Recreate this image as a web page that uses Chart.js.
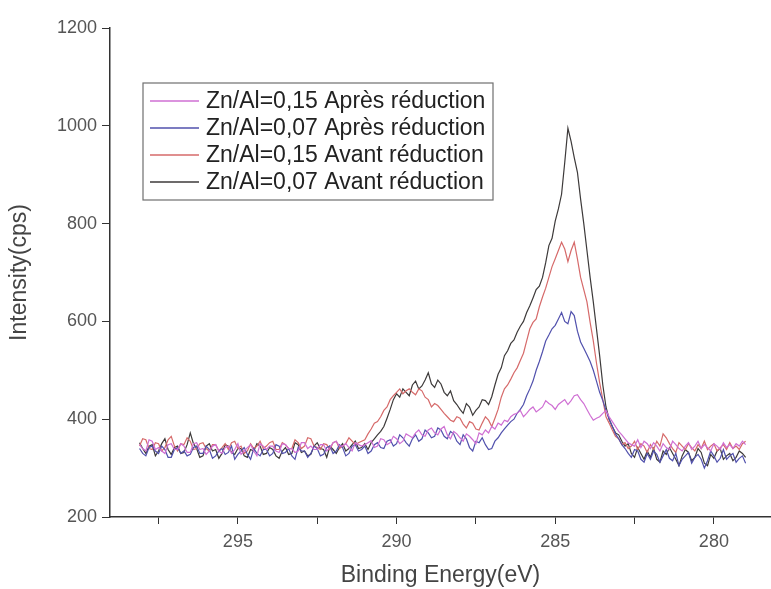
<!DOCTYPE html>
<html>
<head>
<meta charset="utf-8">
<script src="https://cdn.jsdelivr.net/npm/chart.js@4.4.1/dist/chart.umd.min.js"></script>
<style>
  html, body { margin: 0; padding: 0; background: #fff; }
  #wrap { width: 771px; height: 589px; }
</style>
</head>
<body>
<div id="wrap"><canvas id="chart" width="771" height="589"></canvas></div>
<script>
// XPS C1s spectra, energies from 298.1 eV down to 279.0 eV in 0.1 eV steps
var eStart = 298.1;
var eStep = 0.1;

var seriesLabels = [
  'Zn/Al=0,15 Après réduction',
  'Zn/Al=0,07 Après réduction',
  'Zn/Al=0,15 Avant réduction',
  'Zn/Al=0,07 Avant réduction'
];

// 298.1 .. 291.2 / 291.1 .. 282.1 / 282.0 .. 279.0
var apres015 = [
  348, 340, 335, 358, 355, 338, 342, 335, 330, 348,
  350, 338, 338, 350, 345, 332, 332, 350, 352, 338,
  340, 328, 335, 345, 348, 335, 330, 342, 345, 330,
  338, 350, 328, 335, 342, 348, 335, 325, 350, 345,
  338, 345, 345, 335, 332, 350, 348, 340, 340, 332,
  335, 352, 352, 340, 345, 338, 338, 348, 348, 335,
  342, 352, 355, 345, 345, 350, 342, 335, 352, 348,
  345, 348, 352, 356, 342, 345, 360, 358, 348, 352,
  365, 360, 350, 355, 370, 366, 362, 372, 378, 368,
  365, 378, 382, 372, 368, 380, 385, 368, 360, 375,
  370, 362, 355, 370, 365, 358, 350, 372, 368, 378,
  372, 385, 380, 392, 388, 398, 395, 405, 410, 412,
  418, 405, 412, 420, 425, 415, 420, 425, 438, 432,
  428, 420, 430, 435, 440, 430, 438, 448, 450, 440,
  432, 420, 408, 398, 402, 405, 412, 418, 405, 395,
  385, 375, 368, 360, 352, 348, 345, 358, 342, 355,
  350,
  340, 352, 345, 335, 350, 342, 338, 355, 348, 340,
  335, 345, 352, 338, 345, 355, 340, 348, 342, 335,
  350, 345, 338, 352, 342, 348, 340, 350, 345, 355, 348
];

var apres007 = [
  340, 330, 325, 342, 345, 335, 330, 345, 338, 322,
  322, 338, 342, 330, 335, 325, 328, 342, 345, 330,
  330, 345, 338, 320, 325, 335, 340, 328, 332, 345,
  318, 328, 335, 342, 328, 318, 340, 330, 325, 338,
  338, 325, 330, 348, 345, 330, 332, 340, 325, 318,
  342, 335, 335, 322, 330, 345, 340, 325, 328, 342,
  345, 330, 335, 348, 342, 325, 330, 345, 348, 335,
  338, 345, 330, 335, 348, 352, 342, 340, 355, 358,
  345, 350, 368, 362, 352, 345, 360, 368, 355, 360,
  378, 372, 362, 365, 382, 378, 365, 360, 375, 370,
  355, 348, 368, 360, 342, 335, 355, 352, 362, 348,
  338, 340, 355, 362, 372, 380, 388, 395, 400, 412,
  420, 430, 448, 462, 478, 500, 518, 538, 560, 572,
  585, 592, 605, 618, 600, 595, 620, 612, 580, 558,
  545, 532, 518, 500, 478, 455, 438, 418, 400, 385,
  370, 360, 348, 340, 330, 322, 338, 335, 318, 312,
  330,
  318, 335, 328, 312, 325, 338, 320, 315, 330, 305,
  318, 325, 332, 310, 322, 328, 318, 300, 315, 335,
  325, 312, 320, 338, 318, 325, 330, 312, 320, 325, 310
];

var avant015 = [
  345, 360, 358, 340, 338, 352, 350, 335, 342, 358,
  365, 345, 335, 350, 348, 362, 355, 338, 340, 350,
  352, 340, 335, 348, 348, 335, 342, 350, 338, 352,
  355, 340, 345, 330, 335, 350, 340, 345, 355, 340,
  345, 352, 355, 338, 338, 352, 348, 340, 340, 358,
  352, 340, 345, 362, 360, 345, 342, 338, 350, 348,
  338, 352, 355, 340, 345, 350, 362, 355, 348, 352,
  355, 358, 370, 380, 392, 395, 405, 418, 425, 440,
  448, 455, 462, 452, 458, 462, 455, 450, 462, 458,
  445, 440, 425, 432, 428, 420, 412, 405, 398, 395,
  405, 402, 390, 382, 395, 392, 380, 378, 392, 405,
  398, 385, 402, 420, 445, 462, 470, 482, 495, 505,
  520, 535, 560, 585, 598, 605, 630, 650, 668, 690,
  712, 728, 745, 762, 748, 722, 745, 762, 728, 690,
  665, 640, 598, 560, 515, 475, 440, 405, 392, 378,
  365, 360, 348, 352, 340, 345, 355, 338, 350, 345,
  332,
  348, 338, 355, 345, 370, 362, 350, 340, 332, 352,
  345, 338, 350, 342, 335, 348, 340, 355, 338, 345,
  350, 335, 342, 348, 338, 352, 340, 345, 338, 350, 355
];

var avant007 = [
  352, 340, 330, 345, 348, 325, 335, 350, 360, 338,
  328, 342, 345, 330, 332, 348, 372, 350, 340, 322,
  325, 345, 350, 335, 338, 320, 330, 348, 345, 332,
  328, 340, 340, 325, 322, 338, 335, 350, 345, 328,
  330, 342, 338, 325, 320, 335, 342, 328, 330, 352,
  348, 332, 335, 325, 328, 345, 352, 340, 338, 322,
  345, 338, 330, 342, 350, 335, 340, 348, 355, 340,
  342, 350, 338, 352, 360, 368, 375, 385, 402, 420,
  440, 452, 445, 462, 455, 448, 470, 478, 462, 468,
  480, 495, 472, 465, 480, 472, 455, 448, 458, 438,
  430, 420, 412, 432, 425, 408, 418, 425, 440, 438,
  430, 446, 470, 492, 505, 530, 540, 555, 562, 578,
  590, 600, 618, 632, 648, 665, 672, 690, 720, 755,
  770, 805, 830, 860, 925, 995, 968, 935, 905, 850,
  800, 745, 690, 640, 585, 530, 470, 425, 400, 385,
  372, 368, 355, 345, 350, 330, 322, 342, 330, 318,
  335,
  322, 340, 318, 312, 335, 328, 342, 330, 318, 305,
  325, 338, 332, 315, 322, 340, 332, 310, 305, 328,
  320, 335, 340, 318, 325, 330, 315, 322, 335, 330, 322
];

var seriesColors = ['#cf6fd3', '#5151ad', '#d66a6a', '#3d3a3a'];

var xMajorTicks = [295, 290, 285, 280];
var xMinorTicks = [297.5, 292.5, 287.5, 282.5];
var yTicks = [200, 400, 600, 800, 1000, 1200];

var energies = avant007.map(function (v, i) {
  return +(eStart - i * eStep).toFixed(1);
});

var toPoints = function (values) {
  return values.map(function (v, i) {
    return { x: energies[i], y: v };
  });
};

var allSeries = [apres015, apres007, avant015, avant007];

var datasets = allSeries.map(function (values, i) {
  return {
    label: seriesLabels[i],
    data: toPoints(values),
    borderColor: seriesColors[i],
    backgroundColor: seriesColors[i],
    borderWidth: 1.2,
    pointRadius: 0,
    fill: false,
    tension: 0
  };
});

// legend box drawn inside the plot, like the original figure
var boxLegend = {
  id: 'boxLegend',
  afterDraw: function (chart) {
    var c = chart.ctx;
    var left = 143, top = 83, w = 350, h = 117;
    c.save();
    c.fillStyle = '#fff';
    c.fillRect(left, top, w, h);
    c.strokeStyle = '#6f6f6f';
    c.lineWidth = 1.2;
    c.strokeRect(left, top, w, h);
    c.font = '23px "Liberation Sans", Arial, sans-serif';
    c.textBaseline = 'middle';
    c.textAlign = 'left';
    chart.data.datasets.forEach(function (ds, i) {
      var y = top + 18 + i * 27;
      c.strokeStyle = ds.borderColor;
      c.lineWidth = 1.3;
      c.beginPath();
      c.moveTo(150, y);
      c.lineTo(199, y);
      c.stroke();
      c.fillStyle = '#222';
      c.fillText(ds.label, 206, y + 1);
    });
    c.restore();
  }
};

Chart.defaults.font.family = '"Liberation Sans", Arial, sans-serif';

var ctx = document.getElementById('chart').getContext('2d');

new Chart(ctx, {
  type: 'line',
  data: { datasets: datasets },
  plugins: [boxLegend],
  options: {
    responsive: false,
    animation: false,
    devicePixelRatio: 1,
    layout: { padding: { top: 28, right: 0, bottom: 0, left: 0 } },
    plugins: {
      legend: { display: false },
      tooltip: { enabled: false }
    },
    scales: {
      x: {
        type: 'linear',
        reverse: true,
        min: 278.2,
        max: 299.03,
        afterBuildTicks: function (scale) {
          scale.ticks = xMajorTicks.concat(xMinorTicks).map(function (v) {
            return { value: v };
          });
        },
        afterFit: function (scale) { scale.height = 72; },
        grid: { drawOnChartArea: false, drawTicks: true, tickLength: 7, color: '#333', lineWidth: 1 },
        border: { color: '#333', width: 1.5 },
        ticks: {
          autoSkip: false,
          maxRotation: 0,
          padding: 7,
          color: '#555',
          font: { size: 18 },
          callback: function (v) {
            return xMajorTicks.indexOf(v) >= 0 ? String(v) : '';
          }
        },
        title: {
          display: true,
          text: 'Binding Energy(eV)',
          color: '#444',
          font: { size: 23 },
          padding: { top: 0, bottom: 0 }
        }
      },
      y: {
        min: 200,
        max: 1200,
        afterBuildTicks: function (scale) {
          scale.ticks = yTicks.map(function (v) { return { value: v }; });
        },
        afterFit: function (scale) { scale.width = 110; },
        grid: { drawOnChartArea: false, drawTicks: true, tickLength: 8, color: '#333', lineWidth: 1 },
        border: { color: '#333', width: 1.5 },
        ticks: {
          padding: 5,
          color: '#555',
          font: { size: 18 },
          callback: function (v) { return String(v); }
        },
        title: {
          display: true,
          text: 'Intensity(cps)',
          color: '#444',
          font: { size: 23 },
          padding: { top: 6, bottom: 0 }
        }
      }
    }
  }
});
</script>
</body>
</html>
